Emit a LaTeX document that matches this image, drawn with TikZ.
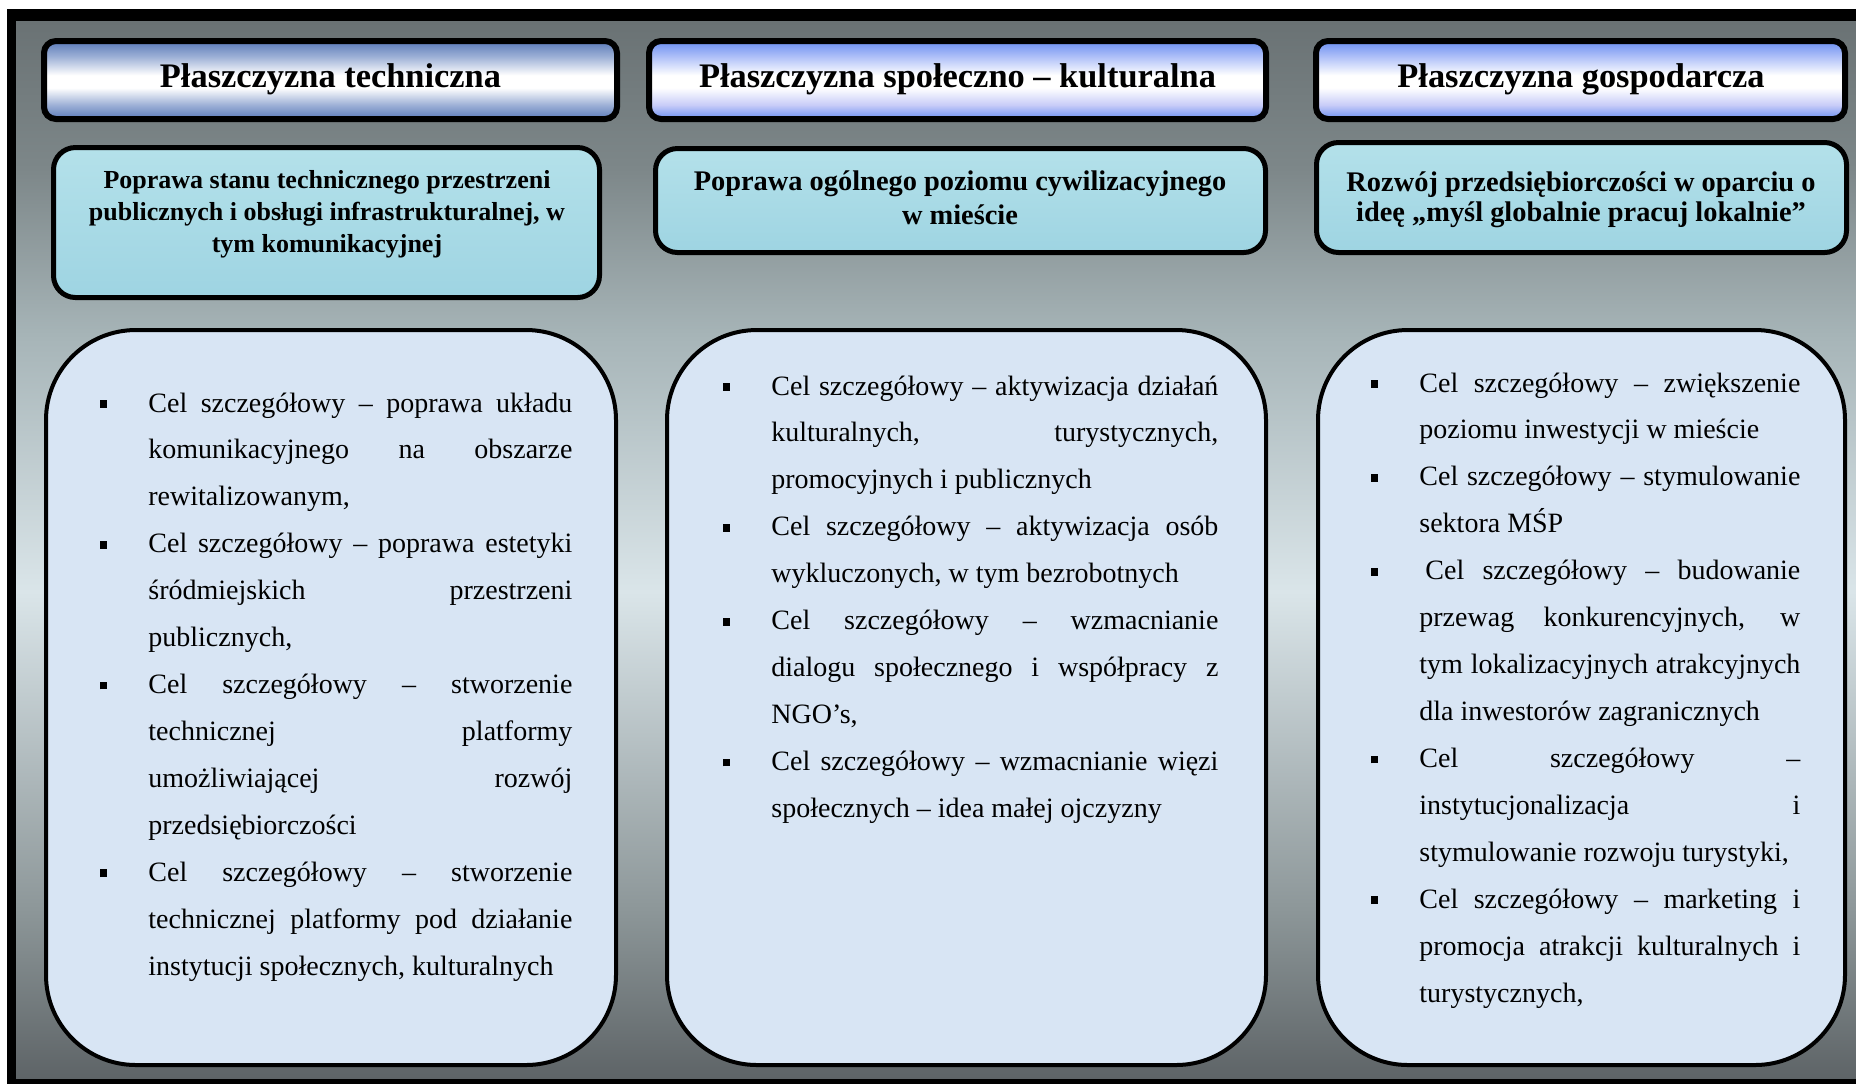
\documentclass[tikz,border=0pt]{standalone}
\usepackage{fontspec}
\setmainfont{Liberation Serif}
\definecolor{bgA}{HTML}{5E6467}
\definecolor{bgB}{HTML}{8D9799}
\definecolor{bgC}{HTML}{DAE5E9}
\definecolor{bgD}{HTML}{A7B5B8}
\definecolor{bgF}{HTML}{7D8789}
\definecolor{bgE}{HTML}{6A7274}
\definecolor{tAtop}{HTML}{5A7AB8}
\definecolor{tAmid}{HTML}{9DB0D6}
\definecolor{tBtop}{HTML}{6A8EF0}
\definecolor{tBmid}{HTML}{AFC0F8}
\definecolor{tBlow}{HTML}{C8CCF8}
\definecolor{subT}{HTML}{B4E1EA}
\definecolor{subB}{HTML}{9ED4E2}
\definecolor{bigfill}{HTML}{D8E5F4}
\pgfdeclareverticalshading{bgshade}{100bp}{color(0bp)=(bgA); color(25bp)=(bgA); color(33bp)=(bgB); color(48bp)=(bgC); color(60bp)=(bgD); color(68bp)=(bgF); color(75bp)=(bgE); color(100bp)=(bgE)}
\pgfdeclareverticalshading{titleA}{100bp}{color(0bp)=(tAtop); color(25bp)=(tAtop); color(34bp)=(tAmid); color(45bp)=(white); color(53bp)=(white); color(65bp)=(tAmid); color(75bp)=(tAtop); color(100bp)=(tAtop)}
\pgfdeclareverticalshading{titleB}{100bp}{color(0bp)=(tBtop); color(25bp)=(tBtop); color(34bp)=(tBlow); color(45bp)=(white); color(53bp)=(white); color(65bp)=(tBmid); color(75bp)=(tBtop); color(100bp)=(tBtop)}
\newlength\cw
\newcommand\jl[1]{\makebox[\cw][s]{#1}\\}
\newcommand\nl[1]{#1\\}
\newcommand\bl{\leavevmode\llap{\rule[2.1pt]{3.6pt}{3.9pt}\hspace{20.7pt}}}
\newcommand\colbox[2]{\parbox[t]{#1}{\setlength\cw{#1}\fontsize{14pt}{23.47pt}\selectfont\lineskiplimit=-10pt #2}}
\newcommand\subtext[3]{\parbox[t]{300pt}{\centering\fontsize{#1}{#2}\selectfont\bfseries\lineskiplimit=-10pt #3}}
\tikzset{
  titlebox/.style={line width=3pt, rounded corners=6pt, draw=black},
  subbox/.style={line width=2.5pt, rounded corners=11pt, draw=black, top color=subT, bottom color=subB},
  bigbox/.style={line width=2pt, rounded corners=45pt, draw=black, fill=bigfill},
  ttl/.style={font=\fontsize{17.2pt}{20pt}\selectfont\bfseries, anchor=base, inner sep=0pt},
  txt/.style={anchor=base, inner sep=0pt},
  body/.style={anchor=base west, inner sep=0pt}
}
\begin{document}
\begin{tikzpicture}[x=0.5pt,y=-0.5pt]
\useasboundingbox (0,0) rectangle (1856,1084);
\fill[white] (0,0) rectangle (1856,1084);
\fill[black] (7,9) rectangle (1856,1084);
\shade[shading=bgshade] (16,21) rectangle (1856,1078);
% title boxes
\shadedraw[titlebox, shading=titleA] (44,41) rectangle (617,119);
\shadedraw[titlebox, shading=titleB] (649,41) rectangle (1266,119);
\shadedraw[titlebox, shading=titleB] (1316,41) rectangle (1845,119);
\node[ttl] (t1) at (330.5,87) {Płaszczyzna techniczna};
\node[ttl] (t2) at (957.5,87) {Płaszczyzna społeczno – kulturalna};
\node[ttl] (t3) at (1581,87) {Płaszczyzna gospodarcza};
% subtitle boxes
\draw[subbox] (53.5,147.5) rectangle (599.5,297.5);
\draw[subbox] (655.5,148.5) rectangle (1265.5,252.5);
\draw[subbox] (1316.5,142.5) rectangle (1846.5,252.5);
\node[txt] (s1) at (327,188) {\subtext{13pt}{16pt}{Poprawa stanu technicznego przestrzeni\\publicznych i obsługi infrastrukturalnej, w\\tym komunikacyjnej}};
\node[txt] (s2) at (960,190) {\subtext{14.2pt}{17pt}{Poprawa ogólnego poziomu cywilizacyjnego\\w mieście}};
\node[txt] (s3) at (1581,191) {\subtext{14.2pt}{15pt}{Rozwój przedsiębiorczości w oparciu o\\ideę „myśl globalnie pracuj lokalnie”}};
% big boxes
\draw[bigbox] (46,330) rectangle (616,1065);
\draw[bigbox] (667,330) rectangle (1266,1065);
\draw[bigbox] (1318,330) rectangle (1845,1065);
\node[body] (c1) at (148,412) {\colbox{212pt}{%
\bl\jl{Cel szczegółowy – poprawa układu}
\jl{komunikacyjnego na obszarze}
\nl{rewitalizowanym,}
\bl\jl{Cel szczegółowy – poprawa estetyki}
\jl{śródmiejskich przestrzeni}
\nl{publicznych,}
\bl\jl{Cel szczegółowy – stworzenie}
\jl{technicznej platformy}
\jl{umożliwiającej rozwój}
\nl{przedsiębiorczości}
\bl\jl{Cel szczegółowy – stworzenie}
\jl{technicznej platformy pod działanie}
instytucji społecznych, kulturalnych}};
\node[body] (c2) at (771,395) {\colbox{223.5pt}{%
\bl\jl{Cel szczegółowy – aktywizacja działań}
\jl{kulturalnych, turystycznych,}
\nl{promocyjnych i publicznych}
\bl\jl{Cel szczegółowy – aktywizacja osób}
\nl{wykluczonych, w tym bezrobotnych}
\bl\jl{Cel szczegółowy – wzmacnianie}
\jl{dialogu społecznego i współpracy z}
\nl{NGO’s,}
\bl\jl{Cel szczegółowy – wzmacnianie więzi}
społecznych – idea małej ojczyzny}};
\node[body] (c3) at (1419,392) {\colbox{190.5pt}{%
\bl\jl{Cel szczegółowy – zwiększenie}
\nl{poziomu inwestycji w mieście}
\bl\jl{Cel szczegółowy – stymulowanie}
\nl{sektora MŚP}
\bl\jl{\hspace*{3pt}Cel szczegółowy – budowanie}
\jl{przewag konkurencyjnych, w}
\jl{tym lokalizacyjnych atrakcyjnych}
\nl{dla inwestorów zagranicznych}
\bl\jl{Cel szczegółowy –}
\jl{instytucjonalizacja i}
\nl{stymulowanie rozwoju turystyki,}
\bl\jl{Cel szczegółowy – marketing i}
\jl{promocja atrakcji kulturalnych i}
turystycznych,}};
\end{tikzpicture}
\end{document}
